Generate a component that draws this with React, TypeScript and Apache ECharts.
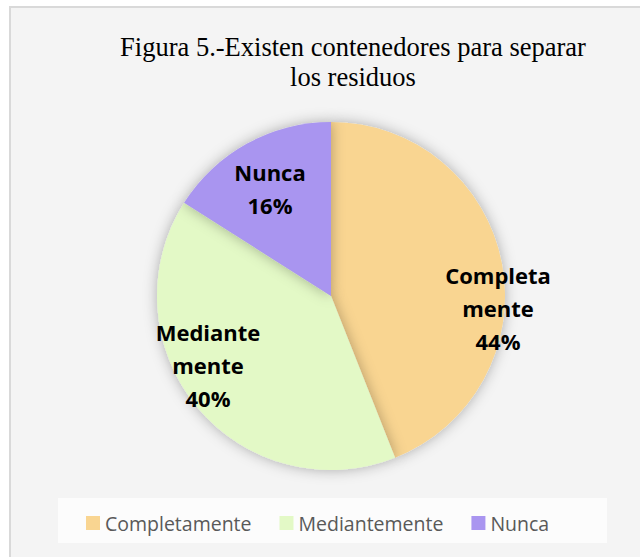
import React, { useEffect, useRef } from "react";
import * as echarts from "echarts";

const categories = ["Completamente", "Mediantemente", "Nunca"];
const values = [44, 40, 16];
const labelNames = ["Completa\nmente", "Mediante\nmente", "Nunca"];
const colors = ["#F9D591", "#E3F9C6", "#A995F0"];
const titleText = "Figura 5.-Existen contenedores para separar\nlos residuos";

const labelSpots: [number, number][] = [
  [498, 308],
  [208, 365],
  [270, 188],
];

export default function App() {
  const ref = useRef<HTMLDivElement>(null);
  useEffect(() => {
    if (!ref.current) return;
    const chart = echarts.init(ref.current, undefined, { renderer: "svg" });
    chart.setOption({
      animation: false,
      backgroundColor: "#ffffff",
      graphic: [
        {
          type: "rect",
          z: -10,
          silent: true,
          shape: { x: 10, y: 7, width: 640, height: 560 },
          style: { fill: "#f4f4f4", stroke: "#d9d9d9", lineWidth: 2 },
        },
        {
          type: "rect",
          z: -9,
          silent: true,
          shape: { x: 58, y: 498, width: 549, height: 45 },
          style: { fill: "#fcfcfc" },
        },
      ],
      title: {
        text: titleText,
        left: 348,
        top: 27,
        textAlign: "center",
        textStyle: {
          fontFamily: "Liberation Serif",
          fontSize: 26.5,
          fontWeight: "normal",
          color: "#000000",
          lineHeight: 30,
        },
      },
      legend: {
        data: categories,
        left: 81,
        top: 508,
        icon: "rect",
        itemWidth: 14,
        itemHeight: 14,
        itemGap: 28,
        itemStyle: { borderWidth: 0 },
        textStyle: {
          fontFamily: "Open Sans",
          fontSize: 19.5,
          color: "#595959",
        },
      },
      series: [
        {
          type: "pie",
          center: [331, 296],
          radius: 174,
          startAngle: 90,
          clockwise: true,
          data: categories.map((c, i) => ({
            name: c,
            value: values[i],
            itemStyle: { color: colors[i] },
          })),
          itemStyle: {
            shadowBlur: 14,
            shadowColor: "rgba(0,0,0,0.3)",
          },
          label: {
            show: true,
            position: "inside",
            formatter: (p: any) => labelNames[p.dataIndex] + "\n" + Math.round(p.percent) + "%",
            fontFamily: "Open Sans",
            fontWeight: "bold",
            fontSize: 22,
            lineHeight: 33,
            color: "#000000",
            align: "center",
          },
          labelLine: { show: false },
          labelLayout: (params: any) => {
            const s = labelSpots[params.dataIndex];
            return { x: s[0], y: s[1], align: "center", verticalAlign: "middle" };
          },
          emphasis: { disabled: true },
        },
      ],
    });
    return () => chart.dispose();
  }, []);
  return (
    <div
      ref={ref}
      style={{ position: "absolute", left: 0, top: 0, width: 640, height: 557 }}
    />
  );
}
